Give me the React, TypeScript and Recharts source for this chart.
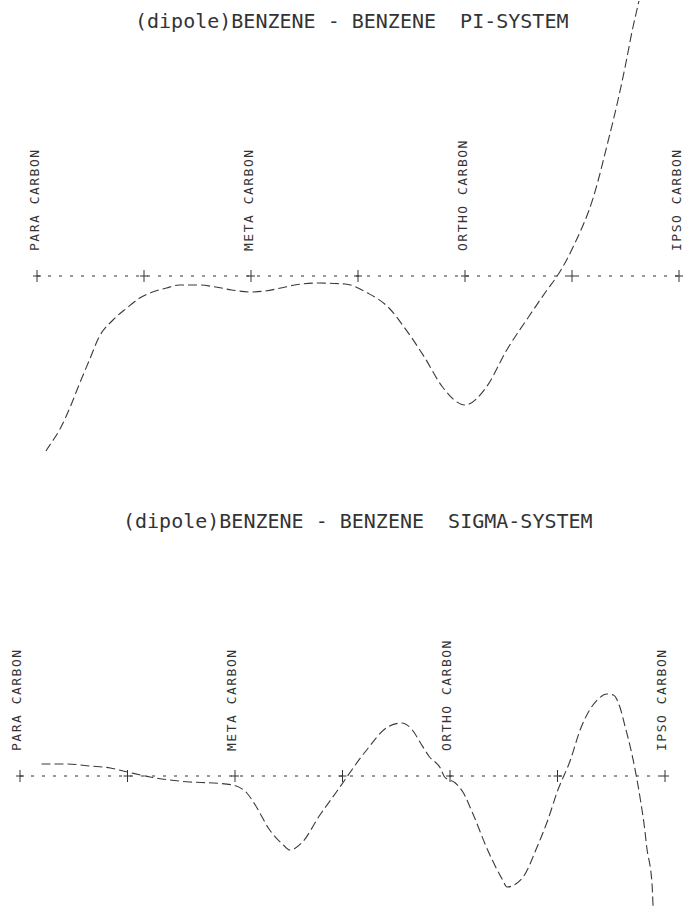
import { Line, LineChart, ReferenceDot, ReferenceLine, XAxis, YAxis } from "recharts"

// carbon positions along the ring walk, 0 = para ... 6 = ipso
const carbonTicks = [0, 1, 2, 3, 4, 5, 6]
const carbonLabels = ["PARA CARBON", "", "META CARBON", "", "ORTHO CARBON", "", "IPSO CARBON"]

// pi-system curve
const piPosition = [
  0, 0.09, 0.12, 0.21, 0.31, 0.4, 0.49, 0.58, 0.71, 0.84, 0.96, 1.08, 1.21, 1.33, 1.51, 1.67, 1.82, 2.0, 2.13, 2.28,
  2.41, 2.63, 2.88, 3.09, 3.29, 3.43, 3.62, 3.79, 4.0, 4.2, 4.39, 4.6, 4.76, 4.88, 5.01, 5.2, 5.34, 5.43, 5.5, 5.57,
  5.6, 6,
]
const piValue = [
  -4.0, -3.48, -3.38, -3.08, -2.62, -2.14, -1.68, -1.22, -0.88, -0.64, -0.44, -0.32, -0.24, -0.18, -0.18, -0.22,
  -0.28, -0.32, -0.3, -0.24, -0.18, -0.14, -0.16, -0.34, -0.64, -1.02, -1.62, -2.22, -2.58, -2.22, -1.48, -0.8, -0.3,
  0.06, 0.58, 1.58, 2.72, 3.52, 4.22, 4.98, 5.26, 9.5,
]

// sigma-system curve
const sigmaPosition = [
  0.2, 0.44, 0.65, 0.84, 1.0, 1.21, 1.58, 1.8, 1.98, 2.11, 2.2, 2.31, 2.45, 2.51, 2.62, 2.79, 2.95, 3.21, 3.42, 3.55,
  3.65, 3.72, 3.81, 3.91, 3.95, 4.05, 4.12, 4.21, 4.35, 4.49, 4.53, 4.68, 4.81, 4.91, 5.0, 5.12, 5.21, 5.37, 5.46,
  5.52, 5.58, 5.63, 5.69, 5.77, 5.81, 5.83, 5.88, 5.89, 6,
]
const sigmaValue = [
  0.24, 0.24, 0.2, 0.16, 0.08, -0.02, -0.12, -0.14, -0.18, -0.34, -0.62, -1.04, -1.38, -1.48, -1.34, -0.78, -0.3,
  0.48, 0.98, 1.06, 0.92, 0.68, 0.38, 0.16, -0.02, -0.14, -0.32, -0.74, -1.48, -2.08, -2.22, -2.02, -1.42, -0.88,
  -0.3, 0.32, 0.92, 1.52, 1.64, 1.62, 1.38, 0.98, 0.46, -0.46, -1.04, -1.42, -2.18, -2.66, -5.0,
]

const piData = piPosition.map((x, i) => ({ x, y: piValue[i] }))
const sigmaData = sigmaPosition.map((x, i) => ({ x, y: sigmaValue[i] }))

const mono = "'DejaVu Sans Mono', monospace"
const ink = "#333"

function carbonMark(label: string, dx: number) {
  return (props: any) => {
    const { cx, cy } = props
    const lx = cx + dx
    const ly = cy - 25
    return (
      <g>
        <line x1={cx} x2={cx} y1={cy - 6} y2={cy + 6} stroke={ink} strokeWidth={1} />
        <line x1={cx - 4} x2={cx + 4} y1={cy} y2={cy} stroke={ink} strokeWidth={1} />
        {label && (
          <text
            x={lx}
            y={ly}
            transform={`rotate(-90 ${lx} ${ly})`}
            fontFamily={mono}
            fontSize={13}
            letterSpacing={1.5}
            fill={ink}
          >
            {label}
          </text>
        )}
      </g>
    )
  }
}

type PanelProps = {
  data: { x: number; y: number }[]
  height: number
  yDomain: [number, number]
  margin: { top: number; right: number; bottom: number; left: number }
  labelDx: number
}

function SystemPanel({ data, height, yDomain, margin, labelDx }: PanelProps) {
  return (
    <LineChart width={685} height={height} data={data} margin={margin}>
      <XAxis type="number" dataKey="x" domain={[0, 6]} hide allowDataOverflow />
      <YAxis type="number" domain={yDomain} hide allowDataOverflow />
      <ReferenceLine y={0} stroke={ink} strokeWidth={1} strokeDasharray="3 8" />
      {carbonTicks.map((t) => (
        <ReferenceDot key={t} x={t} y={0} r={0} ifOverflow="visible" shape={carbonMark(carbonLabels[t], labelDx)} />
      ))}
      <Line
        type="monotone"
        dataKey="y"
        stroke="#3a3a3a"
        strokeWidth={1.1}
        strokeDasharray="9 4"
        dot={false}
        isAnimationActive={false}
      />
    </LineChart>
  )
}

export default function App() {
  return (
    <div style={{ position: "absolute", left: 0, top: 0, width: 685, height: 909, background: "#fff" }}>
      <svg width={685} height={909} style={{ position: "absolute", left: 0, top: 0 }}>
        <text x={135} y={28} fontFamily={mono} fontSize={20} fill={ink} xmlSpace="preserve">
          (dipole)BENZENE - BENZENE  PI-SYSTEM
        </text>
        <text x={123} y={528} fontFamily={mono} fontSize={20} fill={ink} xmlSpace="preserve">
          (dipole)BENZENE - BENZENE  SIGMA-SYSTEM
        </text>
      </svg>
      <div style={{ position: "absolute", left: 0, top: 0 }}>
        <SystemPanel
          data={piData}
          height={460}
          yDomain={[-3.5, 5.5]}
          margin={{ top: 1, right: 6, bottom: 9, left: 37 }}
          labelDx={2}
        />
      </div>
      <div style={{ position: "absolute", left: 0, top: 460 }}>
        <SystemPanel
          data={sigmaData}
          height={449}
          yDomain={[-2.66, 6.32]}
          margin={{ top: 0, right: 20, bottom: 0, left: 20 }}
          labelDx={1}
        />
      </div>
    </div>
  )
}
